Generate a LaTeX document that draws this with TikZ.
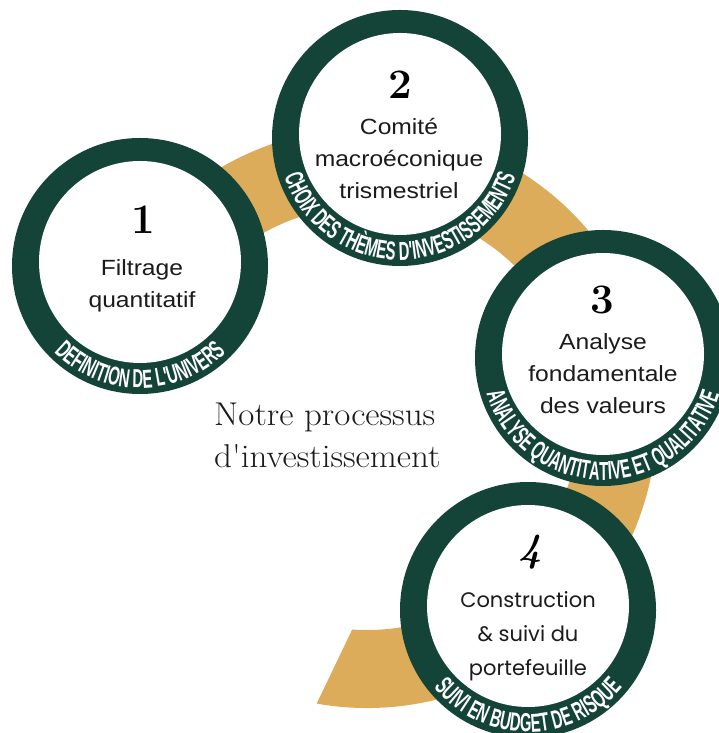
\documentclass[tikz,border=0pt]{standalone}
\usepackage{fontspec}
\usetikzlibrary{decorations.text}

\newfontfamily\bodyfont{Liberation Sans}[FakeStretch=1.12]
\newfontfamily\roundfont{Poppins}
\newfontfamily\titlefont{Latin Modern Roman}[FakeStretch=1.06]
\newfontfamily\ringfont{Liberation Sans}[FakeStretch=0.57]
\newcommand\ringstyle{\ringfont\bfseries\fontsize{26}{26}\selectfont}

\definecolor{pine}{HTML}{144337}
\definecolor{ochre}{HTML}{DDAC5B}
\definecolor{ink}{HTML}{1B1B1B}

\tikzset{
  stepring/.style={circle, fill=pine, minimum size=256pt, inner sep=0pt},
  stepcore/.style={circle, fill=white, minimum size=202pt, inner sep=0pt},
  steptext/.style={font=\bodyfont\fontsize{22}{32}\selectfont, align=center, text=ink},
  stepnum/.style={font=\bfseries\fontsize{42}{42}\selectfont, text=black},
  ringlabel/.style={decorate, decoration={text along path, text color=white,
    text align=center, text={|\ringstyle|#1}}}
}

\begin{document}
\begin{tikzpicture}[x=1pt, y=1pt]
  \useasboundingbox (0,0) rectangle (718,733);

  % bande doree
  \coordinate (O) at (367,315);
  \fill[ochre] (O) ++(165:290) arc[start angle=165, end angle=-100, radius=290]
    -- ([shift={(-94:212)}]O) arc[start angle=-94, end angle=165, radius=212] -- cycle;

  % etapes
  \node[stepring] (s1) at (140,467) {};
  \node[stepring] (s2) at (400,595) {};
  \node[stepring] (s3) at (603,375) {};
  \node[stepring] (s4) at (528,123) {};
  \node[stepcore] (c1) at ([yshift=4pt]s1.center) {};
  \node[stepcore] (c2) at ([yshift=4pt]s2.center) {};
  \node[stepcore] (c3) at ([yshift=4pt]s3.center) {};
  \node[stepcore] (c4) at ([yshift=4pt]s4.center) {};

  % textes sur les anneaux
  \path[ringlabel={DEFINITION DE L'UNIVERS}]
    (s1.center) ++(190:122) arc[start angle=190, end angle=350, radius=122];
  \path[ringlabel={CHOIX DES THÈMES D'INVESTISSEMENTS}]
    (s2.center) ++(188:122) arc[start angle=188, end angle=352, radius=122];
  \path[ringlabel={ANALYSE QUANTITATIVE ET QUALITATIVE}]
    (s3.center) ++(185:122) arc[start angle=185, end angle=355, radius=122];
  \path[ringlabel={SUIVI EN BUDGET DE RISQUE}]
    (s4.center) ++(190:122) arc[start angle=190, end angle=350, radius=122];

  % numeros
  \node[stepnum] (n1) at (143,513) {1};
  \node[stepnum] (n2) at (400,648) {2};
  \node[stepnum] (n3) at (602,433) {3};
  \node[stepnum, font=\bfseries\itshape\fontsize{40}{40}\selectfont] (n4) at (530,181) {4};

  % intitules
  \node[steptext] (t1) at (142,447) {Filtrage\\quantitatif};
  \node[steptext] (t2) at (399,574) {Comité\\macroéconique\\trismestriel};
  \node[steptext] (t3) at (603,359) {Analyse\\fondamentale\\des valeurs};
  \node[steptext, font=\roundfont\fontsize{21}{34}\selectfont] (t4) at (528,97)
    {Construction\\\& suivi du\\portefeuille};

  % titre
  \node[anchor=west, inner sep=0pt, align=left, text=ink,
    font=\titlefont\fontsize{33}{42}\selectfont] (titre) at (214,298)
    {Notre processus\\d'investissement};
\end{tikzpicture}
\end{document}
